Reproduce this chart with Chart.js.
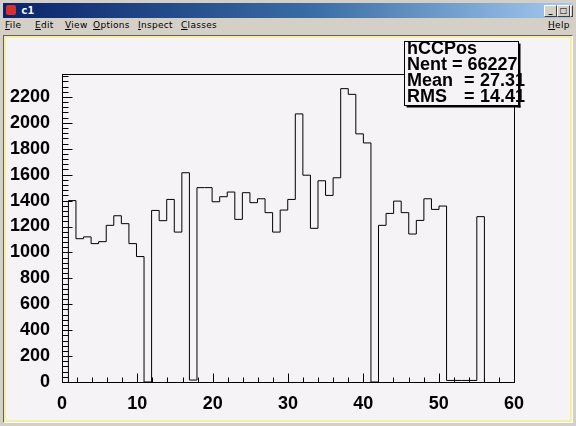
<!DOCTYPE html>
<html>
<head>
<meta charset="utf-8">
<script src="https://cdn.jsdelivr.net/npm/chart.js@4.4.1/dist/chart.umd.min.js"></script>
<style>
  body { margin: 0; background: #d4d0c8; }
  #win { position: absolute; left: 0; top: 0; width: 576px; height: 426px; background: #d4d0c8; overflow: hidden;
         font-family: "Liberation Sans", Arial, sans-serif; }
  #title { position: absolute; left: 3px; top: 3px; width: 570px; height: 15px;
           background: linear-gradient(to right, #0a246a, #3a6ea5 55%, #a6caf0); }
  #title .ico { position: absolute; left: 3px; top: 2px; width: 10px; height: 10px; background: #d83030; border-radius: 2px; }
  #title .txt { position: absolute; left: 18px; top: 1px; color: #fff; font: bold 11px "DejaVu Sans Mono", monospace; }
  .btn { position: absolute; top: 2px; width: 11px; height: 10px; background: #d4d0c8;
         border: 1px solid; border-color: #fff #404040 #404040 #fff; font: bold 8px "DejaVu Sans", sans-serif;
         line-height: 9px; text-align: center; color: #000; }
  .menu { position: absolute; top: 20px; font: 9px "DejaVu Sans", sans-serif; color: #000; letter-spacing: 0.3px; }
  .menu u { text-decoration: underline; }
  #pad { position: absolute; left: 3px; top: 35px; width: 570px; height: 388px; box-sizing: border-box;
         border: 1px solid; border-color: #606060 #ffffff #ffffff #606060; background: #f4f0a0; }
  #inner { position: absolute; left: 2px; top: 2px; width: 564px; height: 382px; background: #f6f3f6; }
  canvas { position: absolute; left: 0; top: 0; }
</style>
</head>
<body>
<div id="win">
  <div id="title"><div class="ico"></div><div class="txt">c1</div>
    <div class="btn" style="left:541px">_</div>
    <div class="btn" style="left:554px">□</div>
    <div class="btn" style="left:567px;width:1px;"></div>
  </div>
  <div class="menu" style="left:5px"><u>F</u>ile</div>
  <div class="menu" style="left:35px"><u>E</u>dit</div>
  <div class="menu" style="left:65px"><u>V</u>iew</div>
  <div class="menu" style="left:93px"><u>O</u>ptions</div>
  <div class="menu" style="left:138px"><u>I</u>nspect</div>
  <div class="menu" style="left:181px"><u>C</u>lasses</div>
  <div class="menu" style="left:548px"><u>H</u>elp</div>
  <div id="pad"><div id="inner"><canvas id="c1" width="564" height="382"></canvas></div></div>
</div>
<script>
// histogram hCCPos, bin contents
const binStart = 0.85;
const binWidth = 1.004;
const counts = [1400, 1106, 1120, 1068, 1083, 1209, 1283, 1222, 1068, 968,
                0, 1324, 1245, 1409, 1157, 1615, 15, 1500, 1500, 1391,
                1430, 1466, 1255, 1461, 1384, 1414, 1307, 1157, 1327, 1409,
                2069, 1596, 1186, 1553, 1440, 1576, 2264, 2220, 1915, 1845,
                0, 1209, 1301, 1396, 1307, 1142, 1247, 1414, 1332, 1358,
                12, 12, 12, 12, 1276];
const xTicks = [0, 10, 20, 30, 40, 50, 60];
const yTicks = [0, 200, 400, 600, 800, 1000, 1200, 1400, 1600, 1800, 2000, 2200];
const statsTitle = 'hCCPos';
const statsNames = ['Nent', 'Mean', 'RMS'];
const statsValues = ['66227', '27.31', '14.41'];

const xMin = 0, xMax = 60;
const yMax = 2377;

// outline points: left edge of each bin, then the closing edge
const pts = [{ x: binStart, y: 0 }];
counts.forEach((v, i) => pts.push({ x: binStart + i * binWidth, y: v }));
const xEnd = binStart + counts.length * binWidth;
pts.push({ x: xEnd, y: counts[counts.length - 1] });
pts.push({ x: xEnd, y: 0 });

const frame = {
  id: 'frame',
  afterDraw(chart) {
    const ctx = chart.ctx, a = chart.chartArea;
    const xs = chart.scales.x, ys = chart.scales.y;
    ctx.save();
    ctx.strokeStyle = '#000';
    ctx.lineWidth = 1;
    const L = Math.round(a.left) + 0.5, R = Math.round(a.right) + 0.5;
    const T = Math.round(a.top) + 0.5, B = Math.round(a.bottom) + 0.5;
    ctx.strokeRect(L, T, R - L, B - T);
    ctx.beginPath();
    for (let v = xMin; v <= xMax; v += 2) {
      const px = Math.round(xs.getPixelForValue(v)) + 0.5;
      const len = v % 10 === 0 ? 9 : 5;
      ctx.moveTo(px, B); ctx.lineTo(px, B - len);
    }
    for (let v = 0; v <= yMax; v += 40) {
      const py = Math.round(ys.getPixelForValue(v)) + 0.5;
      const len = v % 200 === 0 ? 10 : 6;
      ctx.moveTo(L, py); ctx.lineTo(L + len, py);
    }
    ctx.stroke();

    // stats box
    const bx = 398.5, by = 3.5, bw = 114, bh = 64;
    ctx.fillStyle = '#f6f3f6';
    ctx.fillRect(bx, by, bw, bh);
    ctx.fillStyle = '#000';
    ctx.font = 'bold 18px "Liberation Sans", Arial, sans-serif';
    ctx.textBaseline = 'alphabetic';
    ctx.textAlign = 'left';
    ctx.fillText(statsTitle, 401, 16);
    ctx.fillText(statsNames[0] + ' = ' + statsValues[0], 401, 32);
    for (let i = 1; i < 3; i++) {
      ctx.fillText(statsNames[i], 401, 32 + i * 16);
      ctx.fillText('=', 458, 32 + i * 16);
      ctx.fillText(statsValues[i], 474, 32 + i * 16);
    }
    ctx.strokeRect(bx, by, bw, bh);
    ctx.fillRect(bx + bw, by + 2, 2, bh);
    ctx.fillRect(bx + 2, by + bh, bw, 2);
    ctx.restore();
  }
};

const tickFont = { family: '"Liberation Sans", Arial, sans-serif', size: 18, weight: 'bold' };

new Chart(document.getElementById('c1'), {
  type: 'line',
  data: {
    datasets: [{
      data: pts,
      stepped: true,
      borderColor: '#000',
      borderWidth: 1,
      pointRadius: 0,
      fill: false
    }]
  },
  options: {
    responsive: false,
    animation: false,
    devicePixelRatio: 1,
    layout: { padding: { top: 36, right: 56, left: 0, bottom: 0 } },
    plugins: { legend: { display: false }, tooltip: { enabled: false } },
    scales: {
      x: {
        type: 'linear', min: xMin, max: xMax,
        grid: { display: false }, border: { display: false },
        afterBuildTicks: s => { s.ticks = xTicks.map(v => ({ value: v })); },
        afterFit: s => { s.height = 38; },
        ticks: { color: '#000', padding: 3, maxRotation: 0, font: tickFont,
                 callback: v => String(v) }
      },
      y: {
        type: 'linear', min: 0, max: yMax,
        grid: { display: false }, border: { display: false },
        afterBuildTicks: s => { s.ticks = yTicks.map(v => ({ value: v })); },
        afterFit: s => { s.width = 56; },
        ticks: { color: '#000', padding: 4, font: tickFont,
                 callback: v => String(v) }
      }
    }
  },
  plugins: [frame]
});
</script>
</body>
</html>
